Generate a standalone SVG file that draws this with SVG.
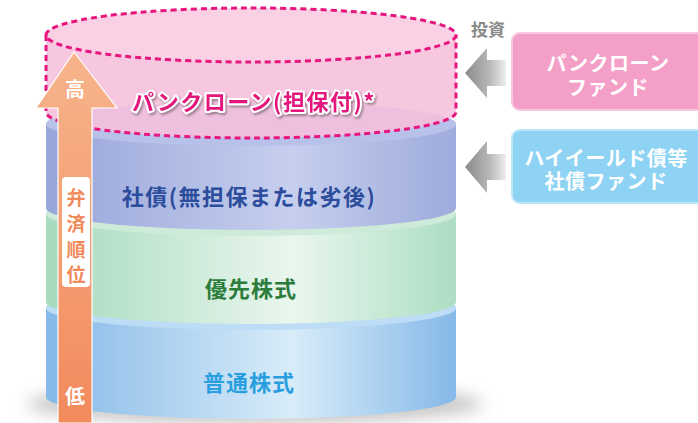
<svg xmlns="http://www.w3.org/2000/svg" width="698" height="423" viewBox="0 0 698 423">
<defs>
<style>
text{font-family:"Noto Sans CJK JP","Noto Sans",sans-serif;}
.lbl{font-size:22px;font-weight:bold;text-anchor:middle;}
.white{fill:#fff;}
.box{font-size:20px;font-weight:bold;fill:#fff;text-anchor:middle;letter-spacing:0.5px;}
.dash{fill:none;stroke:#e6167e;stroke-width:3;stroke-dasharray:6 4;}
</style>
<linearGradient id="gCommon" x1="0" x2="1" y1="0" y2="0">
<stop offset="0" stop-color="#86b9e8"/><stop offset="0.6" stop-color="#d8ecf9"/><stop offset="1" stop-color="#85b9e8"/>
</linearGradient>
<linearGradient id="gPref" x1="0" x2="1" y1="0" y2="0">
<stop offset="0" stop-color="#a6dbbd"/><stop offset="0.6" stop-color="#eaf6ee"/><stop offset="1" stop-color="#acdec3"/>
</linearGradient>
<linearGradient id="gBond" x1="0" x2="1" y1="0" y2="0">
<stop offset="0" stop-color="#98a5da"/><stop offset="0.6" stop-color="#c6cfee"/><stop offset="1" stop-color="#9eabdc"/>
</linearGradient>
<linearGradient id="gArrow" x1="0" x2="0" y1="0" y2="1">
<stop offset="0" stop-color="#f7b48c"/><stop offset="1" stop-color="#f28a5c"/>
</linearGradient>
<linearGradient id="gGrey" x1="0" x2="1" y1="0" y2="0">
<stop offset="0" stop-color="#8a8a8a"/><stop offset="0.6" stop-color="#b8b8b8"/><stop offset="1" stop-color="#eeeeee"/>
</linearGradient>
<filter id="blur" x="-20%" y="-50%" width="140%" height="200%"><feGaussianBlur stdDeviation="8"/></filter>
<filter id="tshadow" x="-10%" y="-30%" width="120%" height="160%"><feDropShadow dx="1.5" dy="2" stdDeviation="1.2" flood-color="#000" flood-opacity="0.35"/></filter>
</defs>
<rect width="698" height="423" fill="#fff"/>

<g id="common-stock">
<ellipse cx="255" cy="404" rx="228" ry="20" fill="#9a9a9a" opacity="0.55" filter="url(#blur)"/>
<path d="M46,308 L46,397 A205,22 0 0 0 456,397 L456,308 A205,22 0 0 0 46,308 Z" fill="url(#gCommon)"/>
<ellipse cx="251" cy="308" rx="205" ry="22" fill="#bddcf5"/>
<text class="lbl" x="249" y="391" fill="#2a9fe0" letter-spacing="1">普通株式</text>
</g>

<g id="preferred-stock">
<path d="M46,214 L46,302 A205,22 0 0 0 456,302 L456,214 A205,22 0 0 0 46,214 Z" fill="url(#gPref)"/>
<ellipse cx="251" cy="214" rx="205" ry="22" fill="#cdebd8"/>
<text class="lbl" x="251" y="297" fill="#2c7c3c" letter-spacing="1">優先株式</text>
</g>

<g id="bonds">
<path d="M46,124 L46,208 A205,22 0 0 0 456,208 L456,124 A205,22 0 0 0 46,124 Z" fill="url(#gBond)"/>
<ellipse cx="251" cy="124" rx="205" ry="22" fill="#b8c1ea"/>
<text class="lbl" x="249" y="205" fill="#2c4c9c" font-size="21" letter-spacing="1.5">社債(無担保または劣後)</text>
</g>

<g id="bank-loan">
<path d="M46,35 L46,112 A205,26 0 0 0 456,112 L456,35 A205,27 0 0 0 46,35 Z" fill="#f6bfdb" opacity="0.88"/>
<ellipse cx="251" cy="35" rx="205" ry="27" fill="#f9d0e5" opacity="0.9"/>
<path class="dash" d="M46,35 L46,112 A205,26 0 0 0 456,112 L456,35"/>
<ellipse class="dash" cx="251" cy="35" rx="205" ry="27"/>
<text class="lbl" x="254" y="110" font-size="23" letter-spacing="1.5" fill="#e4157c" stroke="#fff" stroke-width="4" stroke-linejoin="round" paint-order="stroke" filter="url(#tshadow)">パンクローン(担保付)*</text>
</g>

<g id="priority-arrow">
<path d="M74,52 L117,108 L92,108 L92,423 L58,423 L58,108 L36,108 Z" fill="url(#gArrow)" stroke="#fff" stroke-width="1.2"/>
<text x="75" y="97" font-size="20" font-weight="bold" class="white" text-anchor="middle">高</text>
<rect x="62" y="177" width="28" height="110" rx="4" fill="#fff"/>
<text font-size="19" font-weight="bold" fill="#f08a5a" text-anchor="middle"><tspan x="76" y="205">弁</tspan><tspan x="76" y="231">済</tspan><tspan x="76" y="257">順</tspan><tspan x="76" y="282">位</tspan></text>
<text x="75" y="404" font-size="20" font-weight="bold" class="white" text-anchor="middle">低</text>
</g>

<g id="invest-label">
<text x="488" y="36" font-size="17" fill="#8a8a8a" text-anchor="middle" font-weight="bold">投資</text>
</g>

<g id="bank-loan-fund">
<rect x="512" y="33" width="196" height="77" rx="8" fill="#f39fc7" stroke="#f8c6df" stroke-width="2"/>
<text class="box"><tspan x="608" y="71">パンクローン</tspan><tspan x="608" y="95">ファンド</tspan></text>
</g>

<g id="high-yield-fund">
<rect x="512" y="130" width="196" height="73" rx="8" fill="#8ed3f3" stroke="#bde6f9" stroke-width="2"/>
<text class="box"><tspan x="606" y="166">ハイイールド債等</tspan><tspan x="606" y="189">社債ファンド</tspan></text>
</g>

<g id="connectors">
<path d="M465,73 L487,48 L487,60 L506,60 L506,86 L487,86 L487,98 Z" fill="url(#gGrey)"/>
<path d="M465,167 L487,141 L487,154 L506,154 L506,180 L487,180 L487,193 Z" fill="url(#gGrey)"/>
</g>
</svg>
